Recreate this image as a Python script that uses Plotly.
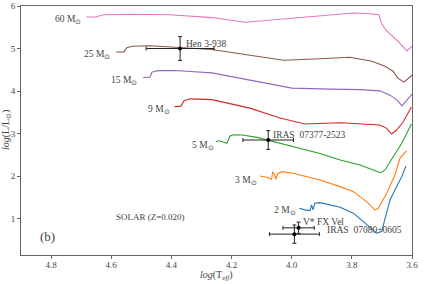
import plotly.graph_objects as go

# ---------------- data ----------------
track_names = ["60 M<sub>⊙</sub>", "25 M<sub>⊙</sub>", "15 M<sub>⊙</sub>", "9 M<sub>⊙</sub>",
               "5 M<sub>⊙</sub>", "3 M<sub>⊙</sub>", "2 M<sub>⊙</sub>"]

t60_x = [4.684, 4.651, 4.627, 4.538, 4.405, 4.265, 4.155, 4.039, 3.906, 3.796, 3.740, 3.710, 3.703, 3.687, 3.650, 3.617, 3.600]
t60_y = [5.742, 5.742, 5.794, 5.805, 5.794, 5.728, 5.618, 5.688, 5.782, 5.836, 5.817, 5.794, 5.618, 5.430, 5.196, 4.945, 5.055]

t25_x = [4.584, 4.558, 4.548, 4.531, 4.471, 4.371, 4.265, 4.139, 4.026, 3.906, 3.806, 3.733, 3.690, 3.663, 3.647, 3.627, 3.600]
t25_y = [4.921, 4.921, 5.020, 5.055, 5.067, 5.032, 4.978, 4.844, 4.727, 4.762, 4.797, 4.703, 4.586, 4.469, 4.305, 4.211, 4.375]

t15_x = [4.494, 4.471, 4.465, 4.445, 4.388, 4.265, 4.139, 3.999, 3.873, 3.773, 3.707, 3.673, 3.650, 3.633, 3.617, 3.600]
t15_y = [4.321, 4.328, 4.445, 4.481, 4.485, 4.429, 4.258, 4.070, 4.047, 4.035, 4.007, 3.906, 3.789, 3.655, 3.789, 3.930]

t9_x = [4.391, 4.368, 4.358, 4.338, 4.265, 4.139, 4.039, 3.956, 3.839, 3.740, 3.707, 3.684, 3.668, 3.651, 3.629, 3.602]
t9_y = [3.632, 3.648, 3.777, 3.819, 3.801, 3.601, 3.367, 3.226, 3.257, 3.210, 3.203, 3.125, 2.992, 3.086, 3.280, 3.625]

t5_x = [4.252, 4.242, 4.228, 4.216, 4.211, 4.205, 4.192, 4.165, 4.115, 4.079, 4.006, 3.906, 3.839, 3.773, 3.729, 3.704, 3.690, 3.662, 3.634, 3.609, 3.602]
t5_y = [2.811, 2.835, 2.804, 2.774, 2.839, 2.945, 2.975, 2.968, 2.914, 2.851, 2.722, 2.535, 2.382, 2.265, 2.148, 2.084, 2.148, 2.460, 2.774, 3.125, 3.226]

t3_x = [4.105, 4.083, 4.067, 4.063, 4.057, 4.052, 4.048, 4.033, 3.995, 3.906, 3.839, 3.795, 3.751, 3.723, 3.712, 3.684, 3.657, 3.640, 3.618]
t3_y = [2.007, 1.977, 1.930, 2.108, 2.030, 1.930, 2.054, 2.108, 2.070, 1.914, 1.756, 1.639, 1.404, 1.210, 1.249, 1.601, 2.031, 2.422, 2.600]

t2_x = [3.975, 3.956, 3.939, 3.934, 3.929, 3.923, 3.906, 3.839, 3.795, 3.751, 3.717, 3.701, 3.684, 3.673, 3.657, 3.634, 3.620]
t2_y = [1.250, 1.210, 1.193, 1.327, 1.210, 1.367, 1.381, 1.273, 1.132, 0.858, 0.663, 0.701, 1.133, 1.444, 1.679, 1.991, 2.241]

track_colors = ["#e377c2", "#8c564b", "#9467bd", "#d62728", "#2ca02c", "#ff7f0e", "#1f77b4"]

star_names = ["Hen 3-938", "IRAS  07377-2523", "V* FX Vel", "IRAS  07080+0605"]
star_logT = [4.371, 4.078, 3.977, 3.991]
star_logL = [5.001, 2.851, 0.788, 0.640]
star_logT_err = [0.113, 0.084, 0.052, 0.083]
star_logL_err = [0.28, 0.22, 0.135, 0.215]

x_ticks = [4.8, 4.6, 4.4, 4.2, 4.0, 3.8, 3.6]
x_ticktext = ["4.8", "4.6", "4.4", "4.2", "4.0", "3.8", "3.6"]
y_ticks = [1, 2, 3, 4, 5, 6]
y_ticktext = ["1", "2", "3", "4", "5", "6"]

# ---------------- figure ----------------
fig = go.Figure()
tracks_x = [t60_x, t25_x, t15_x, t9_x, t5_x, t3_x, t2_x]
tracks_y = [t60_y, t25_y, t15_y, t9_y, t5_y, t3_y, t2_y]
for tx, ty, c in zip(tracks_x, tracks_y, track_colors):
    fig.add_trace(go.Scatter(x=tx, y=ty, mode="lines",
                             line=dict(color=c, width=1.1), showlegend=False,
                             hoverinfo="skip"))

fig.add_trace(go.Scatter(
    x=star_logT, y=star_logL, mode="markers",
    marker=dict(color="black", size=4),
    error_x=dict(type="data", array=star_logT_err, color="#222", thickness=1, width=2),
    error_y=dict(type="data", array=star_logL_err, color="#222", thickness=1, width=2),
    showlegend=False))

FONT = "Liberation Serif"
TXT = "#444444"

# track labels (layout positions)
label_pos = [(4.694, 5.688), (4.597, 4.867), (4.508, 4.258), (4.398, 3.578),
             (4.252, 2.711), (4.109, 1.890), (3.979, 1.187)]
for name, (lx, ly) in zip(track_names, label_pos):
    fig.add_annotation(x=lx, y=ly, text=name, showarrow=False, xanchor="right",
                       yanchor="middle", font=dict(family=FONT, size=9.5, color=TXT))

star_label_pos = [(4.357, 5.118), (4.070, 2.975), (3.968, 0.928), (3.888, 0.734)]
for name, (lx, ly) in zip(star_names, star_label_pos):
    fig.add_annotation(x=lx, y=ly, text=name, showarrow=False, xanchor="left",
                       yanchor="middle", font=dict(family=FONT, size=9.5, color=TXT))

fig.add_annotation(x=4.469, y=1.045, text="SOLAR (Z=0.020)", showarrow=False,
                   xanchor="center", yanchor="middle",
                   font=dict(family=FONT, size=9, color=TXT))
fig.add_annotation(x=4.812, y=0.576, text="(b)", showarrow=False,
                   xanchor="center", yanchor="middle",
                   font=dict(family=FONT, size=13, color=TXT))

# axis titles
fig.add_annotation(xref="paper", yref="paper", x=0.5, y=-0.082,
                   text="<i>log</i>(T<sub><i>eff</i></sub>)", showarrow=False,
                   xanchor="center", yanchor="middle",
                   font=dict(family=FONT, size=10, color=TXT))
fig.add_annotation(xref="paper", yref="paper", x=-0.037, y=0.5,
                   text="<i>log</i>(L/L<sub>⊙</sub>)", showarrow=False, textangle=-90,
                   xanchor="center", yanchor="middle",
                   font=dict(family=FONT, size=10, color=TXT))

axis_common = dict(showgrid=False, zeroline=False, showline=True, mirror=True,
                   linecolor="#666", linewidth=1, ticks="outside", ticklen=3,
                   tickcolor="#666", automargin=False,
                   tickfont=dict(family=FONT, size=9, color=TXT))

fig.update_xaxes(range=[4.9, 3.6], tickvals=x_ticks, ticktext=x_ticktext,
                 ticklabelstandoff=-2, **axis_common)
fig.update_yaxes(range=[0.15, 6.0], tickvals=y_ticks, ticktext=y_ticktext, **axis_common)

fig.update_layout(width=425, height=284,
                  margin=dict(l=21, r=13, t=6, b=29, autoexpand=False),
                  plot_bgcolor="white", paper_bgcolor="white",
                  font=dict(family=FONT, color=TXT))

fig.write_html("out.html", config={"displayModeBar": False},
               post_script="document.body.style.margin='0';document.body.style.padding='0';")
